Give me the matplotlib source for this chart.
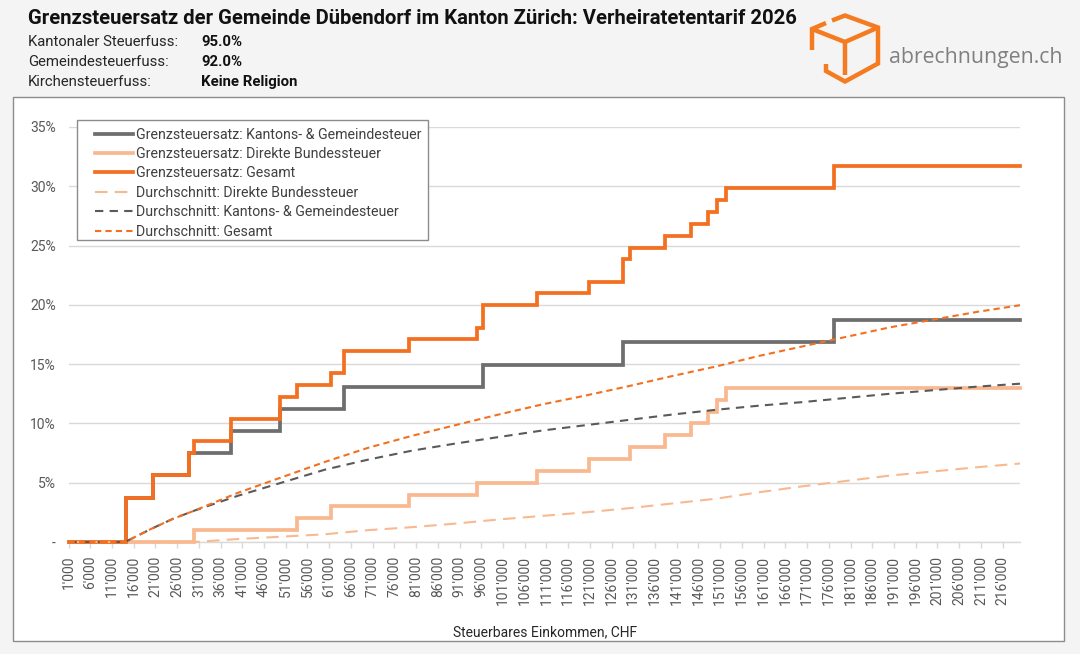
"""
Grenzsteuersatz Dübendorf (ZH), Verheiratetentarif 2026
"""

import matplotlib
matplotlib.use("Agg")
import matplotlib.pyplot as plt
from matplotlib.patches import Rectangle
from matplotlib.lines import Line2D
from matplotlib.ticker import FixedLocator, FuncFormatter

plt.rcParams["font.family"] = ["Roboto", "DejaVu Sans"]

# --- data -----------------------------------------------------------------
x_start = 1000
x_end = 220000

# marginal rates, % (step after each break)
gemeinde_breaks = [14200, 20500, 28800, 38500, 49600, 64300, 96400, 128700, 177100]
gemeinde_rates = [0, 3.74, 5.61, 7.48, 9.35, 11.22, 13.09, 14.96, 16.83, 18.70]

bund_breaks = [29900, 53500, 61500, 79300, 95000, 108800, 120700, 130300,
               138400, 144300, 148200, 150200, 152300]
bund_rates = [0, 1, 2, 3, 4, 5, 6, 7, 8, 9, 10, 11, 12, 13]

gesamt_breaks = [14200, 20500, 28800, 29900, 38500, 49600, 53500, 61500, 64300,
                 79300, 95000, 96400, 108800, 120700, 128700, 130300, 138400,
                 144300, 148200, 150200, 152300, 177100]
gesamt_rates = [0, 3.74, 5.61, 7.48, 8.48, 10.35, 12.22, 13.22, 14.22, 16.09,
                17.09, 18.09, 19.96, 20.96, 21.96, 23.83, 24.83, 25.83, 26.83,
                27.83, 28.83, 29.83, 31.70]

# average rates, %
avg_income = [1000, 14000, 20000, 25000, 30000, 40000, 50000, 60000, 70000,
              80000, 90000, 100000, 110000, 120000, 130000, 140000, 150000,
              160000, 170000, 180000, 190000, 200000, 210000, 220000]
avg_bund = [0, 0, 0, 0, 0, 0.25, 0.45, 0.65, 1.0, 1.25, 1.55, 1.9, 2.2, 2.5,
            2.85, 3.25, 3.65, 4.2, 4.7, 5.15, 5.6, 5.95, 6.3, 6.62]
avg_gemeinde = [0, 0, 1.1, 1.95, 2.65, 3.9, 5.0, 6.1, 6.95, 7.7, 8.3, 8.85,
                9.4, 9.85, 10.3, 10.75, 11.15, 11.5, 11.8, 12.15, 12.5, 12.8,
                13.1, 13.35]
avg_gesamt = [0, 0, 1.1, 1.95, 2.65, 4.15, 5.45, 6.75, 7.95, 8.95, 9.85, 10.75,
              11.6, 12.35, 13.15, 14.0, 14.8, 15.7, 16.5, 17.3, 18.1, 18.75,
              19.4, 19.97]

x_ticks = list(range(1000, 216001, 5000))
y_ticks = [0, 5, 10, 15, 20, 25, 30, 35]

GREY = "#6e6e6e"
GREY_D = "#5a5a5a"
PEACH = "#f9b990"
ORANGE = "#f37021"

DASH_LW = 1.5
DASH_BUND = (6, 3.5)
DASH_GEM = (4, 3)
DASH_GES = (3, 2)


def step_xy(breaks, rates):
    xs = [x_start] + breaks + [x_end]
    ys = rates + [rates[-1]]
    return xs, ys


W, H = 1080, 654
fig = plt.figure(figsize=(W / 100, H / 100), dpi=100, facecolor="#f4f4f4")


def fx(px):
    return px / W


def fy(py):
    return 1 - py / H


# white chart frame
fig.patches.append(Rectangle((fx(13), fy(641)), fx(1064) - fx(13), fy(97) - fy(641),
                             transform=fig.transFigure, facecolor="white",
                             edgecolor="#8c8c8c", linewidth=1, zorder=-5))

ax = fig.add_axes([fx(68.5), fy(542), fx(1020) - fx(68.5), fy(127) - fy(542)])
ax.set_facecolor("none")

lw = 2.7
ax.plot(*step_xy(gemeinde_breaks, gemeinde_rates), drawstyle="steps-post",
        color=GREY, lw=lw, zorder=3, clip_on=False, solid_joinstyle="miter")
ax.plot(*step_xy(bund_breaks, bund_rates), drawstyle="steps-post",
        color=PEACH, lw=lw, zorder=3, clip_on=False, solid_joinstyle="miter")
ax.plot(*step_xy(gesamt_breaks, gesamt_rates), drawstyle="steps-post",
        color=ORANGE, lw=lw, zorder=4, clip_on=False, solid_joinstyle="miter")

ax.plot(avg_income, avg_bund, color=PEACH, lw=DASH_LW, dashes=DASH_BUND, zorder=5, clip_on=False)
ax.plot(avg_income, avg_gemeinde, color=GREY_D, lw=DASH_LW, dashes=DASH_GEM, zorder=5, clip_on=False)
ax.plot(avg_income, avg_gesamt, color=ORANGE, lw=DASH_LW, dashes=DASH_GES, zorder=6, clip_on=False)

ax.set_xlim(x_start, x_end)
ax.set_ylim(0, 35)

ax.xaxis.set_major_locator(FixedLocator(x_ticks))
ax.xaxis.set_major_formatter(FuncFormatter(lambda v, p: f"{int(v):,}".replace(",", "'")))
ax.yaxis.set_major_locator(FixedLocator(y_ticks))
ax.yaxis.set_major_formatter(FuncFormatter(lambda v, p: "-" if v == 0 else f"{int(v)}%"))

ax.tick_params(axis="x", direction="out", length=4, width=1, color="#d9d9d9",
               labelrotation=90, labelsize=10, labelcolor="#595959", pad=6)
ax.tick_params(axis="y", length=0, labelsize=10, labelcolor="#595959", pad=9)

for s in ["top", "right", "left"]:
    ax.spines[s].set_visible(False)
ax.spines["bottom"].set_color("#d9d9d9")
ax.spines["bottom"].set_linewidth(1)
ax.grid(axis="y", color="#d9d9d9", lw=1)
ax.set_axisbelow(True)

# legend box
fig.patches.append(Rectangle((fx(77), fy(240)), fx(428) - fx(77), fy(120) - fy(240),
                             transform=fig.transFigure, facecolor="white",
                             edgecolor="#8c8c8c", linewidth=1, zorder=7))
handles = [
    Line2D([], [], color=GREY, lw=lw),
    Line2D([], [], color=PEACH, lw=lw),
    Line2D([], [], color=ORANGE, lw=lw),
    Line2D([], [], color=PEACH, lw=DASH_LW, dashes=DASH_BUND),
    Line2D([], [], color=GREY_D, lw=DASH_LW, dashes=DASH_GEM),
    Line2D([], [], color=ORANGE, lw=DASH_LW, dashes=DASH_GES),
]
labels = [
    "Grenzsteuersatz: Kantons- & Gemeindesteuer",
    "Grenzsteuersatz: Direkte Bundessteuer",
    "Grenzsteuersatz: Gesamt",
    "Durchschnitt: Direkte Bundessteuer",
    "Durchschnitt: Kantons- & Gemeindesteuer",
    "Durchschnitt: Gesamt",
]
leg = fig.legend(handles, labels, loc="upper left", bbox_to_anchor=(fx(88), fy(120.5)),
                 bbox_transform=fig.transFigure, frameon=False, borderpad=0,
                 handlelength=2.7, handletextpad=0.2, labelspacing=0.38,
                 fontsize=10.2, labelcolor="#404040")
leg.set_zorder(8)

# header
fig.text(fx(28), fy(18), "Grenzsteuersatz der Gemeinde Dübendorf im Kanton Zürich: Verheiratetentarif 2026",
         fontsize=14.6, fontweight="bold", color="#111111", va="center", ha="left")
rows = [("Kantonaler Steuerfuss:", "95.0%"),
        ("Gemeindesteuerfuss:", "92.0%"),
        ("Kirchensteuerfuss:", "Keine Religion")]
for i, (k, v) in enumerate(rows):
    y = fy(42 + 20 * i)
    fig.text(fx(28), y, k, fontsize=10.7, color="#262626", va="center")
    fig.text(fx(201), y, v, fontsize=10.7, fontweight="bold", color="#111111", va="center")

# logo
logo = [
    [(812, 50), (812, 29), (826, 23)],
    [(832, 20.5), (845, 15.5), (878, 27.5), (878, 63.5), (845, 81.5), (826, 71), (826, 64)],
    [(812, 29), (845, 42), (878, 27.5)],
    [(845, 42), (845, 75)],
]
for seg in logo:
    fig.add_artist(Line2D([fx(p[0]) for p in seg], [fy(p[1]) for p in seg],
                          transform=fig.transFigure, color="#f47b20", lw=3.2,
                          solid_joinstyle="miter", solid_capstyle="butt"))
fig.text(fx(889), fy(57), "abrechnungen.ch", fontsize=15.3, color="#808080",
         va="center", ha="left", family=["Open Sans", "DejaVu Sans"])

fig.text(fx(545), fy(632), "Steuerbares Einkommen, CHF", fontsize=10,
         color="#262626", ha="center", va="center")

fig.savefig("out.png", dpi=100, facecolor=fig.get_facecolor())
